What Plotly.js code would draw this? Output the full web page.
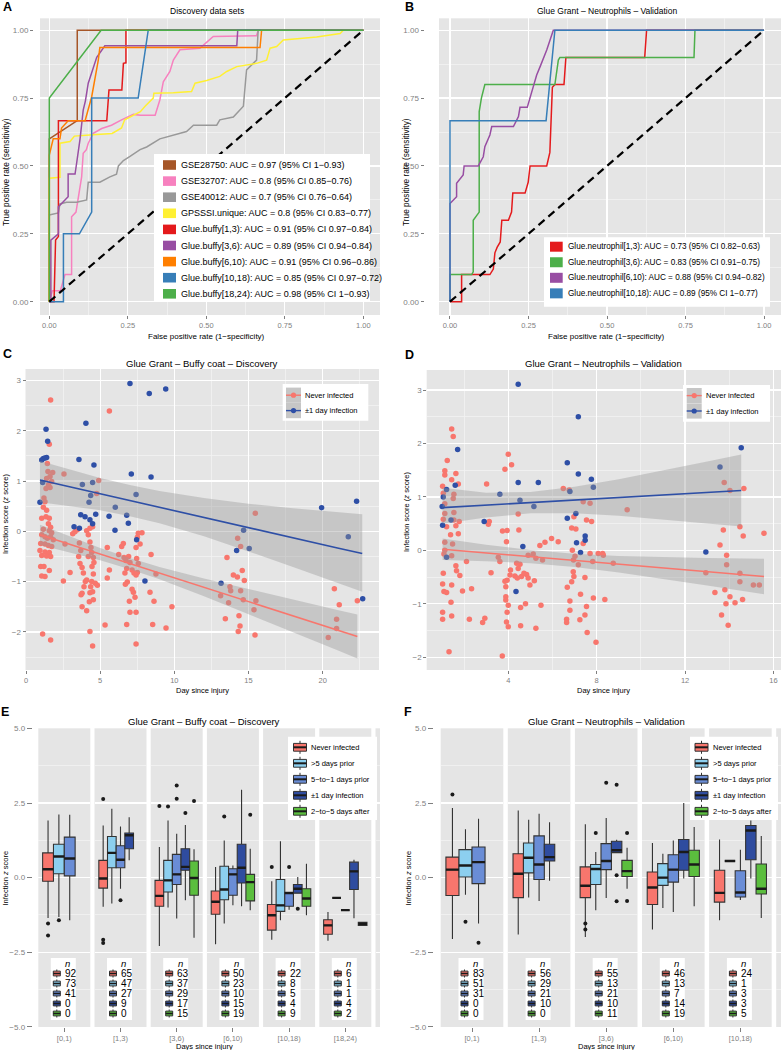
<!DOCTYPE html>
<html>
<head>
<meta charset="utf-8">
<script src="https://cdn.plot.ly/plotly-3.0.1.min.js"></script>
<style>
html,body{margin:0;padding:0;background:#ffffff;}
#chart{width:781px;height:1050px;}
</style>
</head>
<body>
<div id="chart"></div>
<script>
// ======================= DATA =======================
// Panel A – ROC curves, discovery data sets
const rocALabels = [
  "GSE28750: AUC = 0.97 (95% CI 1−0.93)",
  "GSE32707: AUC = 0.8 (95% CI 0.85−0.76)",
  "GSE40012: AUC = 0.7 (95% CI 0.76−0.64)",
  "GPSSSI.unique: AUC = 0.8 (95% CI 0.83−0.77)",
  "Glue.buffy[1,3): AUC = 0.91 (95% CI 0.97−0.84)",
  "Glue.buffy[3,6): AUC = 0.89 (95% CI 0.94−0.84)",
  "Glue.buffy[6,10): AUC = 0.91 (95% CI 0.96−0.86)",
  "Glue.buffy[10,18): AUC = 0.85 (95% CI 0.97−0.72)",
  "Glue.buffy[18,24): AUC = 0.98 (95% CI 1−0.93)"
];
const rocAFpr = [
  [0,0,0.089,0.089,1],
  [0,0.01,0.035,0.04,0.05,0.071,0.071,0.085,0.098,0.103,0.108,0.118,0.124,0.14,0.167,0.198,0.23,0.268,0.29,0.337,0.352,0.363,0.384,0.395,0.416,0.48,0.522,0.66,0.665,1],
  [0,0,0.003,0.029,0.034,0.055,0.087,0.119,0.124,0.161,0.193,0.214,0.22,0.236,0.257,0.289,0.31,0.352,0.437,0.459,0.533,0.543,0.586,0.618,0.628,0.65,0.66,0.665,1],
  [0,0,0.034,0.034,0.066,0.08,0.14,0.2,0.23,0.24,0.29,0.305,0.331,0.333,0.395,0.453,0.464,0.501,0.543,0.565,0.597,0.66,0.692,0.703,0.724,0.745,0.798,0.851,0.926,0.936,1],
  [0,0.015,0.02,0.029,0.029,0.183,0.19,0.231,0.236,0.244,0.244,1],
  [0,0.005,0.005,0.029,0.029,0.06,0.06,0.082,0.087,0.098,0.108,0.115,0.124,0.151,0.177,0.597,0.6,1],
  [0,0,0.0125,0.034,0.039,0.06,0.114,0.135,0.156,0.161,0.671,0.676,1],
  [0,0.045,0.045,0.096,0.135,0.135,0.283,0.315,1],
  [0,0,0.165,1]
];
const rocATpr = [
  [0,0.6,0.667,1,1],
  [0,0.04,0.04,0.06,0.1,0.1,0.313,0.33,0.424,0.46,0.547,0.56,0.584,0.62,0.638,0.65,0.67,0.69,0.687,0.687,0.743,0.81,0.848,0.89,0.928,0.934,0.977,0.98,1,1],
  [0,0.32,0.32,0.327,0.36,0.366,0.366,0.375,0.44,0.44,0.46,0.47,0.5,0.52,0.535,0.56,0.57,0.6,0.627,0.65,0.65,0.67,0.68,0.72,0.854,0.88,0.89,1,1],
  [0,0.455,0.458,0.584,0.59,0.61,0.615,0.62,0.64,0.67,0.7,0.72,0.75,0.768,0.77,0.774,0.805,0.815,0.83,0.848,0.866,0.878,0.89,0.934,0.94,0.964,0.97,0.975,0.988,1,1],
  [0,0,0.227,0.24,0.667,0.667,0.78,0.78,0.878,0.88,1,1],
  [0,0,0.227,0.25,0.35,0.387,0.47,0.47,0.51,0.6,0.706,0.74,0.805,0.9,0.943,0.943,1,1],
  [0,0.54,0.6,0.6,0.64,0.667,0.667,0.755,0.89,0.936,0.936,1,1],
  [0,0,0.25,0.25,0.33,0.75,0.75,1,1],
  [0,0.75,1,1]
];

// Panel B – ROC curves, neutrophil validation
const rocBLabels = [
  "Glue.neutrophil[1,3): AUC = 0.73 (95% CI 0.82−0.63)",
  "Glue.neutrophil[3,6): AUC = 0.83 (95% CI 0.91−0.75)",
  "Glue.neutrophil[6,10): AUC = 0.88 (95% CI 0.94−0.82)",
  "Glue.neutrophil[10,18): AUC = 0.89 (95% CI 1−0.77)"
];
const rocBFpr = [
  [0,0.037,0.037,0.127,0.138,0.143,0.15,0.16,0.165,0.186,0.196,0.2,0.239,0.249,0.255,0.308,0.318,0.326,0.334,0.363,0.369,0.62,0.626,1],
  [0,0,0.069,0.074,0.074,0.093,0.093,0.1,0.111,0.334,0.345,0.35,0.777,0.78,1],
  [0,0,0.021,0.021,0.042,0.045,0.09,0.106,0.111,0.127,0.133,0.202,0.218,0.223,0.246,0.265,0.276,0.287,0.308,0.329,1],
  [0,0,0.306,0.334,1]
];
const rocBTpr = [
  [0,0,0.1,0.1,0.12,0.18,0.2,0.22,0.3,0.3,0.33,0.4,0.4,0.44,0.5,0.5,0.55,0.79,0.8,0.8,0.9,0.9,1,1],
  [0,0.1,0.1,0.11,0.3,0.33,0.7,0.75,0.8,0.8,0.89,0.9,0.9,1,1],
  [0,0.362,0.387,0.436,0.467,0.5,0.5,0.534,0.571,0.614,0.645,0.645,0.682,0.716,0.716,0.792,0.835,0.866,0.927,1,1],
  [0,0.667,0.667,1,1]
];

// Panel C – buffy coat discovery, infection score vs day
const cNeverDay = [1.66,5.62,1.57,1.44,1.8,1.48,1.62,1.39,1.73,1.51,1.35,1.62,1.21,1.28,1.17,1.39,1.06,1.35,1.57,1.51,1.66,1.17,1.57,1.73,1.06,1.28,1.44,1.66,1.84,0.99,1.28,1.51,1.73,0.94,1.28,1.57,1.06,1.39,1.66,0.99,1.21,1.57,1.06,1.28,1.12,1.66,
  2.56,2.63,2.97,2.52,3.15,3.3,
  3.46,3.6,3.69,3.55,3.64,3.78,3.87,4.0,3.91,3.78,3.71,3.78,4.09,4.2,4.09,4.31,4.49,4.2,4.31,4.38,4.43,4.54,4.58,4.45,4.54,4.43,4.36,4.31,4.49,4.54,4.27,4.67,4.81,4.09,4.31,4.49,4.9,4.76,
  5.33,5.48,5.62,5.48,6.25,6.45,6.56,6.61,6.74,6.79,6.67,6.83,6.92,7.01,7.15,7.28,7.42,7.51,7.57,7.82,7.51,7.69,7.42,7.46,7.57,7.24,7.35,6.7,6.97,7.01,7.15,7.42,6.79,7.42,8.36,8.43,8.63,8.76,9.44,8.54,9.84,
  13.55,14.27,14.47,14.58,13.98,14.25,13.75,13.8,14.47,14.65,14.72,13.12,13.66,15.37,13.44,14.36,14.43,14.31,15.44,15.46,20.79,21.12,20.94,20.94,20.38,22.34,15.5];
const cNeverScore = [2.61,2.39,1.73,1.35,1.17,1.19,1.09,1.05,0.99,0.92,0.85,0.87,0.66,0.59,0.48,0.42,0.26,0.29,0.26,0.15,0.08,0.04,0.01,-0.03,-0.07,-0.11,-0.14,-0.11,-0.17,-0.24,-0.25,-0.28,-0.3,-0.38,-0.41,-0.42,-0.48,-0.49,-0.5,-0.7,-0.7,-0.78,-0.89,-0.9,-2.04,-2.16,
  1.14,-0.25,-0.82,-0.99,-0.05,-0.01,
  0.03,-0.23,-0.38,-0.5,-0.64,-0.72,-0.83,-1.0,-1.1,-1.23,-1.26,-1.5,-0.97,-0.5,0.01,0.06,0.09,-0.07,-0.21,-0.32,-0.42,-0.52,-0.62,-0.7,-0.85,-1.0,-1.1,-1.22,-1.2,-1.36,-1.4,-1.03,-1.07,-1.58,-1.99,-2.28,1.01,0.75,
  -1.86,-0.32,-0.77,-0.93,-0.46,-0.3,-0.24,-0.52,-0.58,-0.74,-0.83,-1.01,-0.5,-0.62,-0.77,-0.83,-0.87,-0.82,-0.04,-0.03,-0.12,-0.25,-0.32,-0.54,-0.64,-1.21,-1.31,-1.05,-1.39,-1.61,-1.15,-1.61,-1.85,-2.24,-1.21,-0.46,-1.39,-0.85,-1.92,-1.85,-1.5,
  -0.52,-0.14,-0.3,-0.78,-0.87,-0.91,-1.1,-1.18,-1.18,-1.36,-0.98,-1.28,-1.42,-1.56,-1.74,-1.68,-1.88,-1.99,-2.06,0.36,-1.14,-1.46,-1.75,-1.93,-2.11,-1.38,-1.38];
const cInfDay = [7.01,8.31,9.42,4.04,1.35,1.46,1.06,1.17,1.28,1.39,3.57,4.58,7.1,8.43,0.94,1.12,3.8,4.49,4.36,4.25,7.42,6.02,3.69,3.98,4.31,4.49,4.7,5.6,6.79,6.9,6.0,3.24,3.6,7.46,8.02,19.93,22.29,21.73,14.67,15.05,14.2,13.15,22.7];
const cInfScore = [2.94,2.74,2.83,2.15,2.03,1.79,1.42,1.45,1.46,1.47,1.43,1.32,1.14,1.08,0.58,0.97,0.93,0.97,0.71,0.58,0.73,0.48,0.33,0.29,0.23,0.15,0.34,0.3,0.32,0.16,0.02,0.09,0.06,-0.17,-0.99,0.47,0.6,-0.11,0.02,-0.34,-0.38,-1.03,-1.34];
// linear fits with 95% bands
const cNeverFitDay = [0.94,3,5,7,9,12,15,18,21,22.34];
const cNeverFit    = [-0.07,-0.264,-0.453,-0.642,-0.831,-1.114,-1.397,-1.68,-1.964,-2.09];
const cNeverHi     = [0.13,-0.108,-0.33,-0.532,-0.708,-0.938,-1.151,-1.357,-1.563,-1.653];
const cNeverLo     = [-0.27,-0.42,-0.576,-0.752,-0.954,-1.29,-1.643,-2.003,-2.365,-2.527];
const cInfFitDay   = [0.94,3,5,7,9,12,15,18,21,22.67];
const cInfFit      = [1.02,0.88,0.75,0.61,0.48,0.28,0.075,-0.13,-0.33,-0.44];
const cInfHi       = [1.4,1.22,1.06,0.92,0.8,0.66,0.55,0.46,0.38,0.34];
const cInfLo       = [0.58,0.5,0.42,0.3,0.16,-0.1,-0.4,-0.71,-1.03,-1.2];

// Panel D – neutrophil validation
const dNeverDay = [1.44,1.51,1.24,1.13,1.13,1.63,1.44,1.74,1.03,1.54, 1.51,1.13,1.06,1.54,1.13,1.06,1.54,1.78,1.63,1.21, 1.39,1.74,1.13,1.48,1.13,1.09,1.44,2.11,1.63,1.66, 1.81,1.06,1.03,1.09,1.21,1.44,1.93,2.34,1.41,1.03, 1.03,1.44,1.32,2.24,2.84,2.94,3.22,3.55,3.62,3.92, 3.95,3.74,3.85,4.15,4.0,3.02,3.14,3.1,4.45,4.48, 3.85,3.95,4.1,4.08,4.3,4.41,4.6,4.83,4.9,4.38, 4.53,4.71,5.18,4.98,3.89,3.89,3.89,4.0,3.95,3.92, 4.0,4.56,4.78,4.56,5.25,5.48,3.73,4.45,4.9,5.13, 5.25,5.55,5.43,5.66,5.96,6.26,6.49,6.76,6.97,6.87, 7.06,7.39,7.7,7.54,7.77,6.9,7.02,6.95,7.39,7.7, 7.82,7.17,6.94,6.97,6.87,6.67,7.47,6.79,7.27,6.79, 6.64,6.64,7.24,7.47,7.54,7.57,7.97,7.85,8.37,8.07, 8.27,8.75,8.3,9.38,12.94,13.35,13.58,13.73,13.88,13.88, 13.8,13.85,13.65,13.95,14.03,14.26,13.77,14.03,14.48,14.48, 14.48,14.6,14.63,14.66,15.09,15.36,15.57];
const dNeverScore = [2.27,2.13,1.68,1.49,1.41,1.44,1.32,1.24,1.2,1.05, 0.97,0.87,1.07,0.71,0.69,0.58,0.57,0.54,0.46,0.44, 0.29,0.31,0.15,0.12,0.0,-0.07,-0.1,-0.21,-0.29,-0.38, -0.47,-0.43,-0.63,-0.77,-0.79,-0.65,-0.76,-0.72,-0.97,-1.16, -1.29,-1.23,-1.9,-1.29,-1.35,-1.27,-0.42,-0.13,-0.21,0.16, 0.37,0.36,1.52,1.6,1.8,1.24,0.54,0.49,0.68,0.38, -0.58,-0.56,-0.37,-0.46,-0.48,-0.52,-0.49,-0.45,-0.52,-0.24, -0.26,-0.43,-0.57,-0.65,-0.68,-0.87,-0.93,-1.03,-1.16,-1.34, -1.43,-1.07,-1.0,-1.41,-1.46,-1.03,-1.98,-0.34,-0.09,-0.07, -0.15,-0.18,0.09,0.15,0.22,0.16,1.16,1.13,0.63,0.42, 0.4,0.91,0.88,0.57,0.54,0.0,-0.11,-0.18,0.13,-0.06, -0.21,-0.27,-0.4,-0.49,-0.59,-0.69,-0.51,-0.95,-0.82,-1.12, -1.29,-1.35,-1.3,-1.21,-1.05,-1.54,-1.72,-0.89,-0.92,-0.06, -0.06,-0.24,-0.09,0.76,-0.42,-0.79,0.1,0.38,-0.09,-0.27, -0.74,-1.0,-1.21,-1.4,-0.87,-0.98,1.27,1.12,0.44,-0.43, -0.59,-0.92,0.27,1.16,-0.65,-0.65,0.32];
const dInfDay = [4.45,7.17,1.71,6.67,7.17,7.76,4.45,5.36,14.54,13.58, 1.06,1.01,1.6,1.21,3.62,4.53,5.16,6.79,7.85,2.91, 1.41,1.03,6.67,7.06,7.09,7.48,7.48,4.66,7.27,1.21, 12.94,4.35];
const dInfScore = [3.11,2.5,1.89,1.64,1.43,1.33,1.27,1.27,1.92,1.56, 1.0,0.82,1.22,1.14,1.05,0.94,0.82,1.1,1.18,0.54, 0.57,0.47,0.6,0.69,0.14,0.27,0.19,0.07,-0.04,-0.13, -0.03,-0.77];
const dNeverFitDay = [1.03,3,5,7,9,11,13,15.57];
const dNeverFit    = [0.02,-0.049,-0.119,-0.19,-0.26,-0.33,-0.4,-0.49];
const dNeverHi     = [0.22,0.105,0.005,-0.066,-0.106,-0.129,-0.144,-0.159];
const dNeverLo     = [-0.18,-0.203,-0.243,-0.314,-0.414,-0.531,-0.656,-0.821];
const dInfFitDay   = [1.03,3,5,7,9,11,13,14.54];
const dInfFit      = [0.8,0.847,0.894,0.941,0.989,1.036,1.084,1.12];
const dInfHi       = [1.17,1.08,1.094,1.189,1.332,1.493,1.664,1.796];
const dInfLo       = [0.5,0.614,0.694,0.693,0.646,0.579,0.504,0.444];

// Panels E/F – box plots by day bin and infection group
const groupNames = ["Never infected", ">5 days prior", "5−to−1 days prior", "±1 day infection", "2−to−5 days after"];
const eBins = ["[0,1)", "[1,3)", "[3,6)", "[6,10)", "[10,18)", "[18,24)"];
const fBins = ["[0,1)", "[1,3)", "[3,6)", "[6,10)", "[10,18)"];
const eCounts = [[92,73,41,0,0],[65,47,27,9,0],[63,37,29,17,15],[50,23,10,15,19],[22,8,5,4,9],[6,1,1,4,2]];
const fCounts = [[83,51,31,0,0],[56,29,21,10,0],[55,13,21,10,11],[46,13,7,14,19],[24,1,3,3,5]];
const eUpper  = [[1.92,2.12,2.11,null,null],[1.75,2.31,1.72,2.03,null],[1.03,1.92,1.47,1.77,0.95],[0.36,1.25,0.41,2.95,0.97],[-0.12,1.22,-0.51,0.02,0.47],[-1.15,-0.68,-1.09,0.6,-1.5]];
const eQ3     = [[0.83,1.12,1.36,null,null],[0.58,1.38,1.07,1.5,null],[-0.09,0.58,0.78,0.97,0.56],[-0.45,0.38,0.3,1.12,0.11],[-0.9,-0.06,-0.49,-0.23,-0.37],[-1.41,-0.68,-1.09,0.52,-1.5]];
const eMedian = [[0.28,0.71,0.64,null,null],[-0.03,0.83,0.6,1.42,null],[-0.61,-0.09,0.11,0.36,-0.01],[-0.81,-0.4,0.11,0.33,-0.15],[-1.26,-0.93,-0.52,-0.37,-0.7],[-1.6,-0.68,-1.09,0.21,-1.55]];
const eQ1     = [[-0.12,0.13,0.06,null,null],[-0.35,0.33,0.33,0.97,null],[-0.96,-0.48,-0.23,0.25,-0.59],[-1.23,-0.74,-0.59,-0.18,-0.78],[-1.76,-1.13,-0.96,-0.52,-0.96],[-1.9,-0.68,-1.09,-0.4,-1.6]];
const eLower  = [[-1.35,-1.32,-1.43,null,null],[-0.98,-0.87,-0.37,0.58,null],[-2.29,-1.0,-1.37,-0.76,-2.02],[-2.23,-1.54,-0.93,-0.96,-1.09],[-2.08,-1.43,-1.08,-0.52,-1.26],[-2.12,-0.68,-1.09,-1.36,-1.6]];
const eOutBin   = [0,0,0, 1,1,1,1, 2,2,2,2,2,2, 3,3, 4,4,4];
const eOutGroup = [0,0,1, 0,0,0,2, 0,1,2,2,3,4, 1,4, 0,2,3];
const eOutValue = [-1.54,-1.94,-1.43, 2.64,-2.08,-2.19,-0.76, 2.4,2.39,3.09,2.65,2.17,2.57, 2.05,2.11, 0.36,0.36,-1.04];
const fUpper  = [[2.34,1.62,1.98,null,null],[2.25,1.94,2.14,1.86,null],[1.79,0.86,2.0,1.27,1.0],[1.16,0.8,1.25,2.5,1.7],[1.28,0.56,0.94,1.92,1.4]];
const fQ3     = [[0.69,0.94,1.03,null,null],[0.8,1.16,1.4,1.12,null],[0.36,0.44,1.14,1.22,0.58],[0.19,0.47,0.77,1.28,0.92],[0.25,0.56,0.23,1.75,0.46]];
const fMedian = [[0.27,0.41,0.52,null,null],[0.13,0.67,0.44,0.69,null],[-0.27,0.29,0.56,0.92,0.22],[-0.33,0.0,0.27,0.86,0.44],[-0.51,0.56,-0.5,1.58,-0.37]];
const fQ1     = [[-0.6,0.02,-0.2,null,null],[-0.67,0.16,-0.06,0.56,null],[-0.67,-0.23,0.27,0.84,0.04],[-0.9,-0.26,-0.15,0.25,0.04],[-0.82,0.56,-0.65,0.6,-0.55]];
const fLower  = [[-2.06,-0.57,-1.54,null,null],[-1.91,-0.67,-0.78,-0.1,null],[-1.99,-1.09,-0.68,0.84,-0.37],[-1.74,-1.02,-1.15,-0.03,-0.96],[-1.43,0.56,-0.75,-0.03,-1.35]];
const fOutBin   = [0,0,0, 2,2,2,2,2,2,2,2,2];
const fOutGroup = [0,1,2, 0,0,1,2,3,3,3,4,4];
const fOutValue = [2.79,-1.48,-2.18, -1.54,-1.74,1.5,3.18,3.12,0.08,-0.79,1.5,-0.78];

// ======================= STYLE / HELPERS =======================
const W = 781, H = 1050;
const PX = v => v / W;
const PY = v => 1 - v / H;
const FONT = 'Liberation Sans, Arial, Helvetica, sans-serif';
const GREY_TXT = '#7F7F7F';
const PANEL_BG = '#E5E5E5';
const MINOR_GRID = '#F2F2F2';
const rocAColors = ['#A65628','#F781BF','#999999','#FFF033','#E41A1C','#984EA3','#FF7F00','#377EB8','#4DAF4A'];
const rocBColors = ['#E41A1C','#4DAF4A','#984EA3','#377EB8'];
const neverColor = '#F8766D', infColor = '#2E4FA6';
const bandFill = 'rgba(153,153,153,0.4)';
const groupColors = ['#F8766D','#8CCFEF','#6A8DD6','#2F4C9F','#5BBE3E'];

const traces = [], shapes = [], annotations = [];

function txt(t, x, y, size, extra) {
  annotations.push(Object.assign({
    text: t, x: PX(x), y: PY(y), xref: 'paper', yref: 'paper', showarrow: false,
    xanchor: 'center', yanchor: 'middle', borderpad: 0,
    font: {family: FONT, size: size, color: '#000000'}
  }, extra || {}));
}
function rect(x0, x1, y0, y1, fill, lineColor, lw) {
  shapes.push({type: 'rect', xref: 'paper', yref: 'paper', x0: PX(x0), x1: PX(x1), y0: PY(y1), y1: PY(y0),
    fillcolor: fill, line: {color: lineColor || fill, width: lw || 0}, layer: 'above'});
}
function seg(x0, y0, x1, y1, color, w) {
  shapes.push({type: 'line', xref: 'paper', yref: 'paper', x0: PX(x0), y0: PY(y0), x1: PX(x1), y1: PY(y1),
    line: {color: color, width: w}, layer: 'above'});
}
function boxGlyph(cx, cy, w, h, color, medW) {
  seg(cx, cy - h / 2, cx, cy + h / 2, '#333333', 1);
  rect(cx - w / 2, cx + w / 2, cy - h * 0.3, cy + h * 0.3, color, '#333333', 1);
  seg(cx - w / 2, cy, cx + w / 2, cy, '#1a1a1a', medW);
}
function pointKey(x0, cy, color) {
  rect(x0, x0 + 15, cy - 7.6, cy + 7.6, '#C6C6C6');
  seg(x0, cy, x0 + 15, cy, color, 1.4);
  shapes.push({type: 'circle', xref: 'paper', yref: 'paper', x0: PX(x0 + 7.5 - 2.6), x1: PX(x0 + 7.5 + 2.6),
    y0: PY(cy + 2.6), y1: PY(cy - 2.6), fillcolor: color, line: {width: 0}, layer: 'above'});
}
function axis(extra) {
  return Object.assign({
    showline: false, zeroline: false, ticks: 'outside', ticklen: 4, tickwidth: 1, tickcolor: GREY_TXT,
    tickfont: {family: FONT, size: 8, color: GREY_TXT}, gridcolor: '#FFFFFF', gridwidth: 1.3, fixedrange: true
  }, extra);
}
function minor(d) { return {dtick: d, tick0: 0, showgrid: true, gridcolor: MINOR_GRID, gridwidth: 0.8, ticks: ''}; }
const smallTick = {family: FONT, size: 7.5, color: GREY_TXT};

const layout = {
  width: W, height: H, margin: {l: 0, r: 0, t: 0, b: 0},
  paper_bgcolor: '#FFFFFF', plot_bgcolor: PANEL_BG, showlegend: false, hovermode: false,
  font: {family: FONT, size: 8, color: '#000000'}
};

// ======================= PANEL A =======================
layout.xaxis = axis({domain: [PX(40), PX(380)], range: [-0.0296, 1.053], anchor: 'y', dtick: 0.25, tick0: 0, tickformat: '.2f', ticklen: 3, tickfont: smallTick, minor: minor(0.125)});
layout.yaxis = axis({domain: [PY(315), PY(18.3)], range: [-0.049, 1.044], anchor: 'free', position: PX(33), dtick: 0.25, tick0: 0, tickformat: '.2f', ticklen: 3, minor: minor(0.125)});
rocALabels.forEach((lab, i) => {
  traces.push({type: 'scatter', mode: 'lines', name: lab, x: rocAFpr[i], y: rocATpr[i], xaxis: 'x', yaxis: 'y',
    line: {color: rocAColors[i], width: 1.5}, hoverinfo: 'skip'});
});
shapes.push({type: 'line', xref: 'x', yref: 'y', x0: 0, y0: 0, x1: 1, y1: 1, line: {color: '#000000', width: 2.2, dash: '8px,5px'}, layer: 'above'});
rect(154, 370, 154, 302, '#FFFFFF');
rocALabels.forEach((lab, i) => {
  const cy = 165 + 16.1 * i;
  rect(163, 176, cy - 4.8, cy + 4.8, rocAColors[i]);
  txt(lab, 180, cy, 9, {xanchor: 'left'});
});
txt('Discovery data sets', 207, 10.5, 8.5);
txt('False positive rate (1−specificity)', 206, 337, 8);
txt('True positive rate (sensitivity)', 6, 172, 8.3, {textangle: -90});
txt('<b>A</b>', 7.5, 6.5, 12.5);

// ======================= PANEL B =======================
layout.xaxis2 = axis({domain: [PX(439), PX(781)], range: [-0.035, 1.054], anchor: 'y2', dtick: 0.25, tick0: 0, tickformat: '.2f', ticklen: 3, tickfont: smallTick, minor: minor(0.125)});
layout.yaxis2 = axis({domain: [PY(315), PY(18.3)], range: [-0.049, 1.044], anchor: 'free', position: PX(423.5), dtick: 0.25, tick0: 0, tickformat: '.2f', ticklen: 3, minor: minor(0.125)});
rocBLabels.forEach((lab, i) => {
  traces.push({type: 'scatter', mode: 'lines', name: lab, x: rocBFpr[i], y: rocBTpr[i], xaxis: 'x2', yaxis: 'y2',
    line: {color: rocBColors[i], width: 1.5}, hoverinfo: 'skip'});
});
shapes.push({type: 'line', xref: 'x2', yref: 'y2', x0: 0, y0: 0, x1: 1, y1: 1, line: {color: '#000000', width: 2.2, dash: '8px,5px'}, layer: 'above'});
rect(544, 770, 237.3, 306.7, '#FFFFFF');
rocBLabels.forEach((lab, i) => {
  const cy = 246.7 + 15.55 * i;
  rect(550, 562.7, cy - 5, cy + 5, rocBColors[i]);
  txt(lab, 566.7, cy, 8.2, {xanchor: 'left'});
});
txt('Glue Grant – Neutrophils – Validation', 607, 10.5, 8.5);
txt('False positive rate (1−specificity)', 606, 337, 8);
txt('True positive rate (sensitivity)', 406, 172, 8.3, {textangle: -90});
txt('<b>B</b>', 409, 7.5, 12.5);

// ======================= PANELS C & D =======================
function scatterPanel(xa, ya, nd, ns, id, is, nfx, nf, nlo, nhi, ifx, iff, ilo, ihi) {
  traces.push({type: 'scatter', mode: 'markers', name: 'Never infected', x: nd, y: ns, xaxis: xa, yaxis: ya,
    marker: {color: neverColor, size: 5.5}, hoverinfo: 'skip'});
  traces.push({type: 'scatter', mode: 'markers', name: '±1 day infection', x: id, y: is, xaxis: xa, yaxis: ya,
    marker: {color: infColor, size: 5.5}, hoverinfo: 'skip'});
  [[nfx, nf, nlo, nhi, neverColor], [ifx, iff, ilo, ihi, infColor]].forEach(s => {
    traces.push({type: 'scatter', mode: 'lines', x: s[0].concat(s[0].slice().reverse()), y: s[3].concat(s[2].slice().reverse()),
      fill: 'toself', fillcolor: bandFill, line: {width: 0}, xaxis: xa, yaxis: ya, hoverinfo: 'skip', showlegend: false});
    traces.push({type: 'scatter', mode: 'lines', x: s[0], y: s[1], line: {color: s[4], width: 1.6}, xaxis: xa, yaxis: ya, hoverinfo: 'skip', showlegend: false});
  });
}
layout.xaxis3 = axis({domain: [PX(25.5), PX(379)], range: [-0.034, 23.8], anchor: 'y3', dtick: 5, tick0: 0, ticklen: 3, tickfont: smallTick, minor: minor(2.5)});
layout.yaxis3 = axis({domain: [PY(670), PY(369)], range: [-2.757, 3.227], anchor: 'free', position: PX(25.5), dtick: 1, tick0: 0, ticklen: 3, minor: minor(0.5)});
scatterPanel('x3', 'y3', cNeverDay, cNeverScore, cInfDay, cInfScore, cNeverFitDay, cNeverFit, cNeverLo, cNeverHi, cInfFitDay, cInfFit, cInfLo, cInfHi);
rect(282.7, 368.3, 384, 420.7, '#FFFFFF');
pointKey(286, 395.2, neverColor); pointKey(286, 410.6, infColor);
txt('Never infected', 304, 395.2, 7.5, {xanchor: 'left'});
txt('±1 day infection', 304, 410.6, 7.5, {xanchor: 'left'});
txt('Glue Grant – Buffy coat – Discovery', 202, 363.5, 9.5);
txt('Day since injury', 202, 690, 7.5);
txt('Infection score (<i>z</i> score)', 5, 514, 7.5, {textangle: -90});
txt('<b>C</b>', 7, 354, 12.5);

layout.xaxis4 = axis({domain: [PX(426.7), PX(781)], range: [0.31, 16.34], anchor: 'y4', dtick: 4, tick0: 0, ticklen: 3, tickfont: smallTick, minor: minor(2)});
layout.yaxis4 = axis({domain: [PY(670), PY(370)], range: [-2.24, 3.376], anchor: 'free', position: PX(426.2), dtick: 1, tick0: 0, ticklen: 3, minor: minor(0.5)});
scatterPanel('x4', 'y4', dNeverDay, dNeverScore, dInfDay, dInfScore, dNeverFitDay, dNeverFit, dNeverLo, dNeverHi, dInfFitDay, dInfFit, dInfLo, dInfHi);
rect(683, 770, 385, 421.7, '#FFFFFF');
pointKey(686.7, 395.6, neverColor); pointKey(686.7, 411, infColor);
txt('Never infected', 705, 395.6, 7.5, {xanchor: 'left'});
txt('±1 day infection', 705, 411, 7.5, {xanchor: 'left'});
txt('Glue Grant – Neutrophils – Validation', 603, 363.5, 9.5);
txt('Day since injury', 603, 690, 7.5);
txt('Infection score (<i>z</i> score)', 406, 512, 7.5, {textangle: -90});
txt('<b>D</b>', 409, 354.5, 12.5);

// ======================= PANELS E & F =======================
function facetPanel(bins, axStart, yName, left0, step, fw, sliver, counts, up, q3, med, q1, lo, oBin, oGrp, oVal) {
  bins.forEach((lab, b) => {
    const xa = 'xaxis' + (axStart + b), xs = 'x' + (axStart + b);
    const left = left0 + step * b;
    layout[xa] = axis({domain: [PX(left), PX(left + fw)], range: [-0.6, 0.6], anchor: yName, showgrid: false,
      tickmode: 'array', tickvals: [0], ticktext: [lab], tickfont: smallTick});
    const ns = b === 0 ? 4 : 5, w = 1 / ns;
    const mx = [], my = [];
    counts[b].forEach((n, g) => {
      if (!n) return;
      const pos = -0.5 + (g + 0.5) / ns;
      traces.push({type: 'box', name: groupNames[g], x: [pos], q1: [q1[b][g]], median: [med[b][g]], q3: [q3[b][g]],
        lowerfence: [lo[b][g]], upperfence: [up[b][g]], width: w, xaxis: xs, yaxis: yName,
        fillcolor: groupColors[g], line: {color: '#333333', width: 1.1}, whiskerwidth: 0, boxpoints: false,
        hoverinfo: 'skip', showlegend: false});
      mx.push(pos - w / 2, pos + w / 2, null); my.push(med[b][g], med[b][g], null);
    });
    traces.push({type: 'scatter', mode: 'lines', x: mx, y: my, xaxis: xs, yaxis: yName, line: {color: '#1a1a1a', width: 2.4}, hoverinfo: 'skip', showlegend: false});
    const ox = [], oy = [];
    oBin.forEach((ob, i) => { if (ob === b) { ox.push(-0.5 + (oGrp[i] + 0.5) / ns); oy.push(oVal[i]); } });
    if (ox.length) traces.push({type: 'scatter', mode: 'markers', x: ox, y: oy, xaxis: xs, yaxis: yName, marker: {color: '#1a1a1a', size: 4}, hoverinfo: 'skip', showlegend: false});
    // n table
    const cx = left + fw / 2;
    rect(cx - 13.5, cx + 11.5, 958, 1020, '#FFFFFF');
    txt('<i>n</i>', cx + 3.5, 963.5, 9.5);
    counts[b].forEach((n, g) => {
      const cy = 973.5 + 10 * g;
      boxGlyph(cx - 7.5, cy, 7, 8, groupColors[g], 1.6);
      txt(String(n), cx - 0.5, cy, 10, {xanchor: 'left'});
    });
  });
  const sa = axStart + bins.length;
  layout['xaxis' + sa] = axis({domain: [PX(sliver[0]), PX(sliver[1])], range: [0, 1], anchor: yName, showgrid: false, showticklabels: false, ticks: ''});
  traces.push({type: 'scatter', mode: 'markers', x: [], y: [], xaxis: 'x' + sa, yaxis: yName, hoverinfo: 'skip', showlegend: false});
}
layout.yaxis5 = axis({domain: [PY(1027), PY(728.3)], range: [-5.01, 5.01], anchor: 'free', position: PX(31.7), dtick: 2.5, tick0: 0, tickformat: '.1f', ticklen: 5, minor: minor(1.25)});
layout.yaxis6 = axis({domain: [PY(1027), PY(728.3)], range: [-5.01, 5.01], anchor: 'free', position: PX(432.7), dtick: 2.5, tick0: 0, tickformat: '.1f', ticklen: 5, minor: minor(1.25)});
facetPanel(eBins, 5, 'y5', 38.3, 56.2, 52, [375.5, 380], eCounts, eUpper, eQ3, eMedian, eQ1, eLower, eOutBin, eOutGroup, eOutValue);
facetPanel(fBins, 12, 'y6', 440.7, 67.1, 62.6, [776.2, 781], fCounts, fUpper, fQ3, fMedian, fQ1, fLower, fOutBin, fOutGroup, fOutValue);

function boxLegend(x0, x1, keyX, textX) {
  rect(x0, x1, 736.7, 820, '#FFFFFF');
  groupNames.forEach((g, i) => {
    const cy = 747.3 + 16 * i;
    boxGlyph(keyX, cy, 13, 13, groupColors[i], 2);
    txt(g, textX, cy, 7.5, {xanchor: 'left'});
  });
}
boxLegend(288, 377, 300, 310);
boxLegend(690, 778, 701.5, 711.7);
txt('Glue Grant – Buffy coat – Discovery', 204, 721, 9.5);
txt('Glue Grant – Neutrophils – Validation', 606, 721, 9.5);
txt('Days since injury', 204, 1046, 7.5);
txt('Days since injury', 606, 1046, 7.5);
txt('Infection <i>z</i> score', 4.5, 878, 7.5, {textangle: -90});
txt('Infection <i>z</i> score', 407.5, 878, 7.5, {textangle: -90});
txt('<b>E</b>', 4.5, 711.5, 12.5);
txt('<b>F</b>', 408, 711.5, 12.5);

layout.shapes = shapes;
layout.annotations = annotations;
Plotly.newPlot('chart', traces, layout, {staticPlot: true, displayModeBar: false});
</script>
</body>
</html>
